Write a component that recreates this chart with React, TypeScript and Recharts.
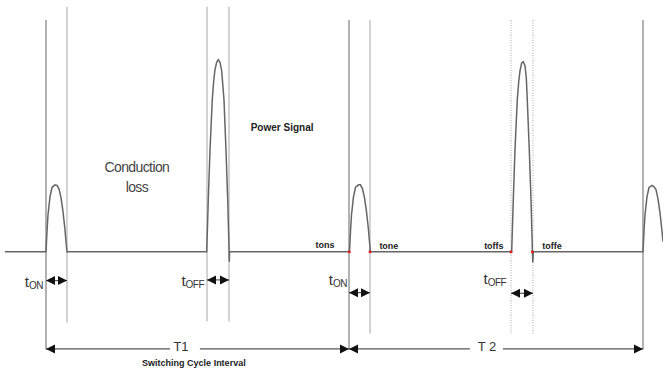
import React from 'react';
import { ComposedChart, Line, XAxis, YAxis, ReferenceLine, ReferenceDot } from 'recharts';

// time axis: one unit = 1/101 of the first switching cycle; amplitude: 1 = turn-on peak
const SIGNAL: [number, number][] = [
  [-13.7, 0],
  // turn-on pulse, cycle 1
  [0, 0], [0.33, 0.3], [0.67, 0.55], [1.33, 0.82], [2, 0.96], [3, 1.0], [3.67, 0.99],
  [4.33, 0.94], [5, 0.81], [5.67, 0.6], [6.33, 0.33], [6.67, 0.15], [7, 0],
  // turn-off pulse, cycle 1
  [53.57, 0], [54.1, 0.78], [54.67, 1.52], [55.43, 2.27], [55.9, 2.55], [56.33, 2.72], [56.9, 2.83],
  [57.43, 2.87], [58, 2.83], [58.57, 2.7], [59.33, 2.27], [60, 1.52], [60.57, 0.78], [61, 0.07],
  [61.1, -0.15], [61.2, 0],
  // turn-on pulse, cycle 2
  [101.17, 0], [101.5, 0.3], [101.83, 0.55], [102.5, 0.82], [103.17, 0.96], [104.17, 1.0],
  [104.83, 1.0], [105.5, 0.94], [106.17, 0.81], [106.83, 0.6], [107.5, 0.33], [107.83, 0.15], [108.17, 0],
  // turn-off pulse, cycle 2
  [155.23, 0], [155.77, 0.78], [156.33, 1.52], [157.1, 2.27], [157.6, 2.55], [158, 2.7], [158.57, 2.82],
  [159.1, 2.84], [159.67, 2.78], [160.1, 2.6], [160.43, 2.27], [161.1, 1.52], [161.67, 0.78],
  [162.1, 0.07], [162.27, -0.16], [162.43, 0],
  // turn-on pulse, cycle 3
  [199, 0], [199.33, 0.3], [199.67, 0.55], [200.33, 0.82], [201, 0.96], [202, 0.99],
  [202.67, 0.97], [203.33, 0.93], [204, 0.79], [204.67, 0.58], [205.33, 0.31], [205.67, 0.15],
];

// switching edges: [time, top, bottom, kind]
const EDGES: [number, number, number, string][] = [
  [0, 3.46, -1.46, 'main'],
  [7, 3.66, -1.06, 'thin'],
  [53.67, 3.66, -1.04, 'thin'],
  [61, 3.66, -1.04, 'thin'],
  [101, 3.46, -1.46, 'main'],
  [108, 3.46, -1.22, 'thin'],
  [155, 3.46, -1.24, 'dot'],
  [162.33, 3.46, -1.24, 'dot'],
  [199, 3.46, -1.46, 'main'],
];

// dimension arrows: [from, to, level, heads]
const ARROWS: [number, number, number, string][] = [
  [0, 7, -0.43, 'both'],
  [53.67, 61, -0.42, 'both'],
  [101, 108, -0.61, 'both'],
  [155, 162.33, -0.62, 'both'],
  [0, 41.3, -1.45, 'start'],
  [51.3, 101, -1.45, 'end'],
  [101, 141.3, -1.45, 'start'],
  [152.3, 199, -1.45, 'end'],
];

const MARKS = [101.1, 108, 155, 162.1];

const LABELS: { text: string; t: number; a: number; kind: string }[] = [
  { text: 'Conduction', t: 30.3, a: 1.27, kind: 'big' },
  { text: 'loss', t: 30.3, a: 0.97, kind: 'big' },
  { text: 'Power Signal', t: 78.7, a: 1.85, kind: 'bold' },
  { text: 'tons', t: 93, a: 0.1, kind: 'small' },
  { text: 'tone', t: 114.3, a: 0.09, kind: 'small' },
  { text: 'toffs', t: 149.3, a: 0.09, kind: 'small' },
  { text: 'toffe', t: 168.7, a: 0.09, kind: 'small' },
  { text: 'T1', t: 45, a: -1.42, kind: 'period' },
  { text: 'T 2', t: 147, a: -1.42, kind: 'period' },
  { text: 'Switching Cycle Interval', t: 49.3, a: -1.66, kind: 'small' },
];

// t with subscript, right edge anchored
const TIMES: { sub: string; t: number; a: number }[] = [
  { sub: 'ON', t: -1, a: -0.43 },
  { sub: 'OFF', t: 52.7, a: -0.42 },
  { sub: 'ON', t: 100.3, a: -0.4 },
  { sub: 'OFF', t: 153.4, a: -0.39 },
];

const FONT = '"Liberation Sans", Arial, sans-serif';

const signalData = SIGNAL.map(([t, a]) => ({ t, a }));

const arrowShape = (heads: string) => (props: any) => {
  const { x1, y1, x2, y2 } = props;
  const w = 9;
  const h = 4.5;
  return (
    <g>
      <line x1={x1} y1={y1} x2={x2} y2={y2} stroke="#555" strokeWidth={1.2} />
      {(heads === 'both' || heads === 'start') && (
        <polygon points={`${x1},${y1} ${x1 + w},${y1 - h} ${x1 + w},${y1 + h}`} fill="#111" />
      )}
      {(heads === 'both' || heads === 'end') && (
        <polygon points={`${x2},${y2} ${x2 - w},${y2 - h} ${x2 - w},${y2 + h}`} fill="#111" />
      )}
    </g>
  );
};

const labelShape = (text: string, kind: string) => (props: any) => {
  const { cx, cy } = props;
  const style: any = {
    big: { fontSize: 14, fill: '#444', letterSpacing: -0.6 },
    bold: { fontSize: 10, fill: '#222', fontWeight: 'bold' },
    small: { fontSize: 9, fill: '#222', fontWeight: 'bold' },
    period: { fontSize: 13, fill: '#333' },
  }[kind];
  return (
    <text x={cx} y={cy} textAnchor="middle" dominantBaseline="central" fontFamily={FONT} {...style}>
      {text}
    </text>
  );
};

const timeShape = (sub: string) => (props: any) => {
  const { cx, cy } = props;
  return (
    <text x={cx} y={cy} textAnchor="end" dominantBaseline="central" fontFamily={FONT} fill="#333">
      <tspan fontSize={15}>t</tspan>
      <tspan fontSize={10} dy={4} letterSpacing={-0.5}>{sub}</tspan>
    </text>
  );
};

const edgeStyle: any = {
  main: { stroke: '#999', strokeWidth: 1.5 },
  thin: { stroke: '#bbb', strokeWidth: 1.3 },
  dot: { stroke: '#bbb', strokeWidth: 1.3, strokeDasharray: '1 1.5' },
};

export default function App() {
  return (
    <div style={{ position: 'absolute', left: 0, top: 0, background: '#fff' }}>
      <ComposedChart width={663} height={377} margin={{ top: 0, right: 0, bottom: 0, left: 0 }}>
        <XAxis type="number" dataKey="t" domain={[-15.33, 205.67]} allowDataOverflow hide />
        <YAxis type="number" domain={[-1.87, 3.76]} allowDataOverflow hide />
        {EDGES.map(([t, top, bottom, kind], i) => (
          <ReferenceLine
            key={`e${i}`}
            segment={[{ x: t, y: top }, { x: t, y: bottom }]}
            ifOverflow="visible"
            {...edgeStyle[kind]}
          />
        ))}
        <Line
          data={signalData}
          dataKey="a"
          type="linear"
          stroke="#666"
          strokeWidth={1.5}
          dot={false}
          activeDot={false}
          isAnimationActive={false}
        />
        {ARROWS.map(([from, to, level, heads], i) => (
          <ReferenceLine
            key={`a${i}`}
            segment={[{ x: from, y: level }, { x: to, y: level }]}
            ifOverflow="visible"
            shape={arrowShape(heads)}
          />
        ))}
        {MARKS.map((t, i) => (
          <ReferenceDot key={`m${i}`} x={t} y={0} r={1.5} fill="#e02020" stroke="none" ifOverflow="visible" />
        ))}
        {LABELS.map((l, i) => (
          <ReferenceDot key={`l${i}`} x={l.t} y={l.a} r={0} ifOverflow="visible" shape={labelShape(l.text, l.kind)} />
        ))}
        {TIMES.map((l, i) => (
          <ReferenceDot key={`s${i}`} x={l.t} y={l.a} r={0} ifOverflow="visible" shape={timeShape(l.sub)} />
        ))}
      </ComposedChart>
    </div>
  );
}
